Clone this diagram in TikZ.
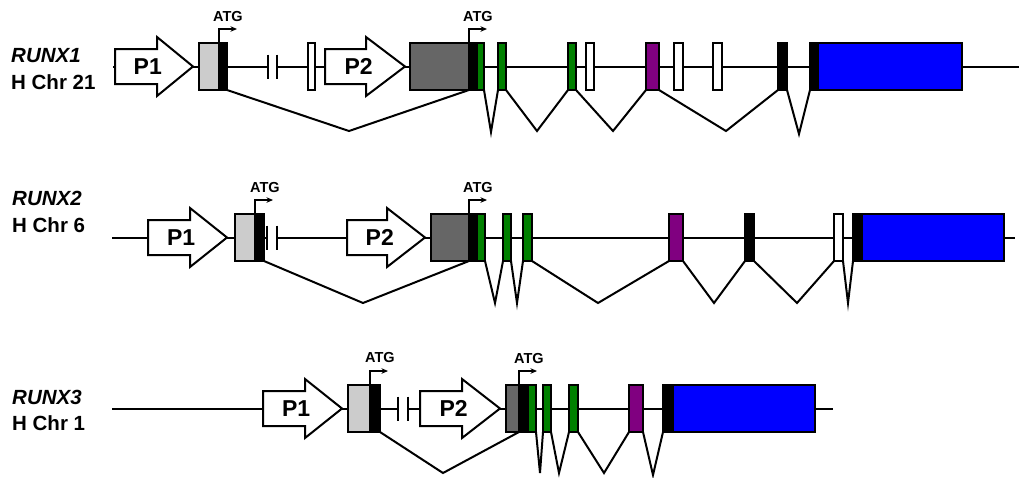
\documentclass[tikz,border=0pt]{standalone}
\usepackage{fontspec}
\setmainfont{Liberation Sans}
\usetikzlibrary{arrows.meta}
\definecolor{lgrey}{HTML}{CCCCCC}
\definecolor{dgrey}{HTML}{666666}
\definecolor{exgreen}{HTML}{008000}
\definecolor{expurple}{HTML}{800080}
\definecolor{exblue}{HTML}{0000FF}
\tikzset{
 exon/.style={draw=black, line width=2pt, rectangle, inner sep=0pt, outer sep=0pt, minimum height=47pt},
 wire/.style={line width=2pt, black},
 splice/.style={line width=2pt, black, line join=miter},
 prom/.style={draw, fill=white, line width=2pt, line join=miter},
 ptext/.style={font=\bfseries\fontsize{23}{23}\selectfont, inner sep=0pt},
 atgtext/.style={font=\bfseries\fontsize{14.5}{14.5}\selectfont, inner sep=0pt},
 atgarrow/.style={line width=1.5pt, -{Stealth[length=6.5pt,width=5.5pt]}},
 genename/.style={font=\bfseries\itshape\fontsize{20.5}{20.5}\selectfont, anchor=west, inner sep=0pt},
 chrname/.style={font=\bfseries\fontsize{20.5}{20.5}\selectfont, anchor=west, inner sep=0pt},
 brk/.style={line width=2pt},
}
\newcommand\Exon[4]{\node[exon,fill=#4,minimum width={(#3-#2)*1pt}] (#1) at ({(#2+#3)/2},\yl) {};}
\newcommand\Prom[5]{%
 \draw[prom] ({#3},{\yl-17.5}) -- ({#4},{\yl-17.5}) -- ({#4},{\yl-29.5}) -- ({#5},\yl) -- ({#4},{\yl+29.5}) -- ({#4},{\yl+17.5}) -- ({#3},{\yl+17.5}) -- cycle;
 \node[ptext] (#1) at ({#3+0.42*(#5-#3)},\yl) {#2};}
\newcommand\Spl[4]{\draw[splice] (#1.south east) -- (#3,#4) -- (#2.south west);}
\newcommand\Brk[2]{\draw[brk] ({#1},{\yl-12}) -- ({#1},{\yl+12}); \draw[brk] ({#2},{\yl-12}) -- ({#2},{\yl+12});}
\newcommand\Atg[4]{\draw[atgarrow] (#1.north west) -- ++(0,-14) -- ++(18,0); \node[atgtext] (#2) at (#3,#4) {ATG};}
\begin{document}
\begin{tikzpicture}[x=1pt,y=-1pt]
\useasboundingbox[fill=white] (0,0) rectangle (1019,477);
% ---------------- RUNX1 ----------------
\def\yl{66.5}
\node[genename] (g1) at (11,56) {RUNX1};
\node[chrname] (c1) at (11,82) {H Chr 21};
\coordinate (r1s) at (113,\yl);
\coordinate (r1a) at (268,\yl);
\coordinate (r1b) at (277,\yl);
\coordinate (r1e) at (1019,\yl);
\draw[wire] (r1s) -- (r1a);
\draw[wire] (r1b) -- (r1e);
\Brk{268}{277}
\Prom{r1p1}{P1}{115}{157}{193}
\Prom{r1p2}{P2}{325}{366}{405}
\Exon{r1lg}{199}{219}{lgrey}
\Exon{r1b1}{219}{227}{black}
\Exon{r1w1}{308}{315}{white}
\Exon{r1dg}{410}{469}{dgrey}
\Exon{r1b2}{469}{477}{black}
\Exon{r1g1}{477}{484}{exgreen}
\Exon{r1g2}{498}{506}{exgreen}
\Exon{r1g3}{568}{576}{exgreen}
\Exon{r1w2}{586}{594}{white}
\Exon{r1pu}{646}{659}{expurple}
\Exon{r1w3}{674}{683}{white}
\Exon{r1w4}{713}{722}{white}
\Exon{r1b3}{778}{787}{black}
\Exon{r1b4}{810}{818}{black}
\Exon{r1bl}{818}{962}{exblue}
\Spl{r1b1}{r1b2}{349}{131}
\Spl{r1g1}{r1g2}{491}{132}
\Spl{r1g2}{r1g3}{537}{131}
\Spl{r1g3}{r1pu}{613}{131}
\Spl{r1pu}{r1b3}{726}{131}
\Spl{r1b3}{r1b4}{799}{134}
\Atg{r1b1}{r1t1}{228}{17}
\Atg{r1b2}{r1t2}{478}{17}
% ---------------- RUNX2 ----------------
\def\yl{237.5}
\node[genename] (g2) at (12,198) {RUNX2};
\node[chrname] (c2) at (12,225) {H Chr 6};
\coordinate (r2s) at (112,\yl);
\coordinate (r2a) at (267,\yl);
\coordinate (r2b) at (277,\yl);
\coordinate (r2e) at (1015,\yl);
\draw[wire] (r2s) -- (r2a);
\draw[wire] (r2b) -- (r2e);
\Brk{267}{277}
\Prom{r2p1}{P1}{148}{190}{227}
\Prom{r2p2}{P2}{347}{387}{425}
\Exon{r2lg}{235}{255}{lgrey}
\Exon{r2b1}{255}{264}{black}
\Exon{r2dg}{431}{469}{dgrey}
\Exon{r2b2}{469}{477}{black}
\Exon{r2g1}{477}{485}{exgreen}
\Exon{r2g2}{503}{511}{exgreen}
\Exon{r2g3}{523}{532}{exgreen}
\Exon{r2pu}{669}{683}{expurple}
\Exon{r2b3}{745}{754}{black}
\Exon{r2w1}{834}{843}{white}
\Exon{r2b4}{853}{862}{black}
\Exon{r2bl}{862}{1004}{exblue}
\Spl{r2b1}{r2b2}{363}{303}
\Spl{r2g1}{r2g2}{495}{303}
\Spl{r2g2}{r2g3}{517}{303}
\Spl{r2g3}{r2pu}{598}{303}
\Spl{r2pu}{r2b3}{714}{303}
\Spl{r2b3}{r2w1}{797}{303}
\Spl{r2w1}{r2b4}{848}{303}
\Atg{r2b1}{r2t1}{265}{188}
\Atg{r2b2}{r2t2}{478}{188}
% ---------------- RUNX3 ----------------
\def\yl{408.5}
\node[genename] (g3) at (12,397) {RUNX3};
\node[chrname] (c3) at (12,423) {H Chr 1};
\coordinate (r3s) at (112,\yl);
\coordinate (r3a) at (398,\yl);
\coordinate (r3b) at (408,\yl);
\coordinate (r3e) at (833,\yl);
\draw[wire] (r3s) -- (r3a);
\draw[wire] (r3b) -- (r3e);
\Brk{398}{408}
\Prom{r3p1}{P1}{263}{305}{342}
\Prom{r3p2}{P2}{420}{462}{500}
\Exon{r3lg}{348}{370}{lgrey}
\Exon{r3b1}{370}{380}{black}
\Exon{r3dg}{506}{519}{dgrey}
\Exon{r3b2}{519}{528}{black}
\Exon{r3g1}{528}{536}{exgreen}
\Exon{r3g2}{543}{551}{exgreen}
\Exon{r3g3}{569}{578}{exgreen}
\Exon{r3pu}{629}{643}{expurple}
\Exon{r3b3}{663}{673}{black}
\Exon{r3bl}{673}{815}{exblue}
\Spl{r3b1}{r3b2}{443}{473}
\Spl{r3g1}{r3g2}{540}{473}
\Spl{r3g2}{r3g3}{559}{473}
\Spl{r3g3}{r3pu}{604}{473}
\Spl{r3pu}{r3b3}{653}{475}
\Atg{r3b1}{r3t1}{380}{358}
\Atg{r3b2}{r3t2}{529}{359}
\end{tikzpicture}
\end{document}
